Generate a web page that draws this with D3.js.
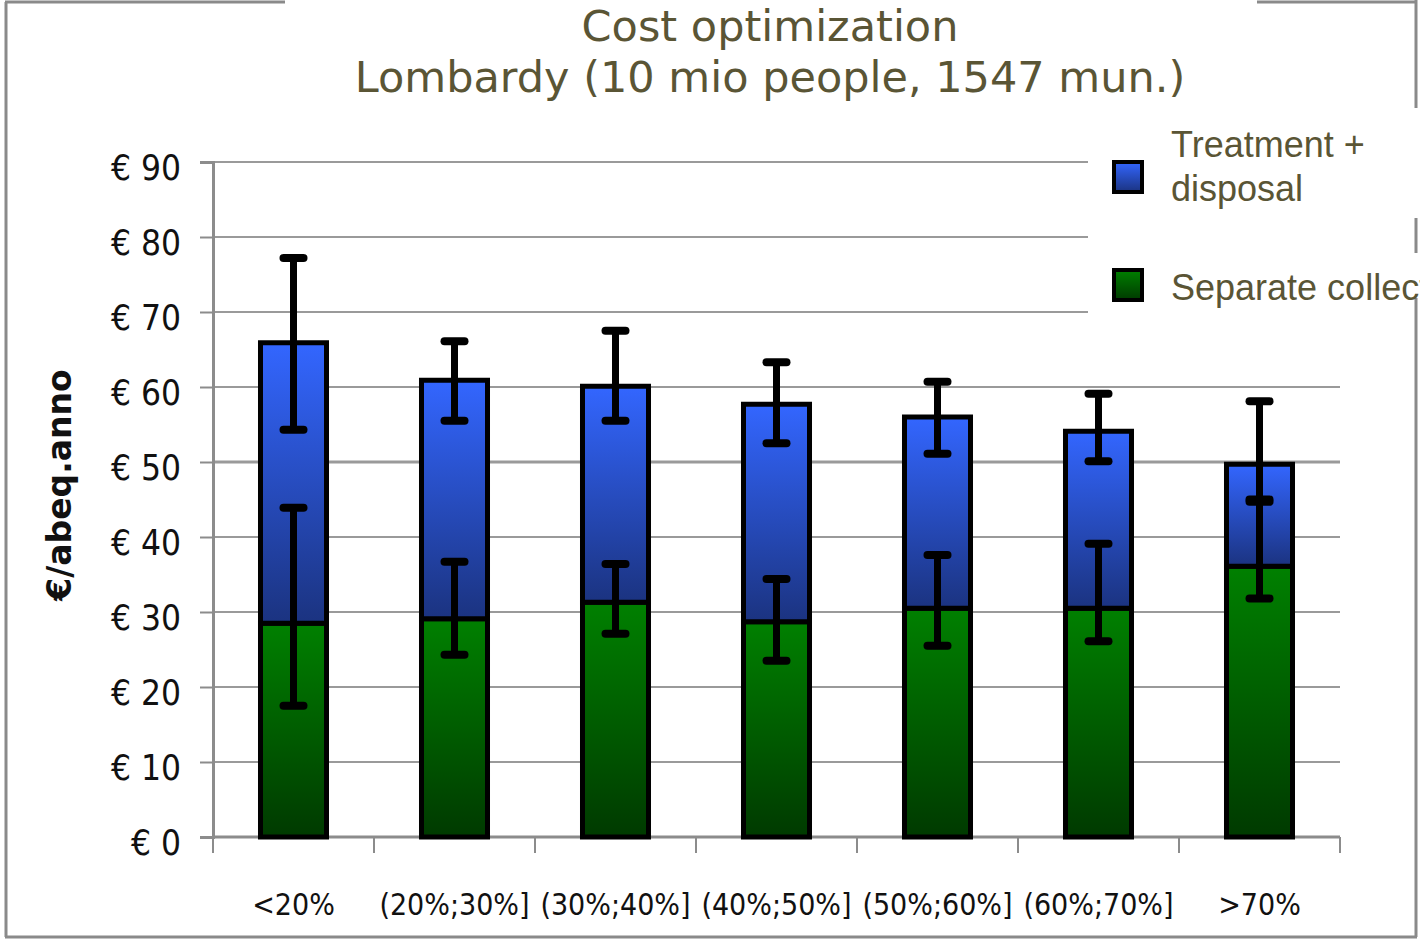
<!DOCTYPE html>
<html>
<head>
<meta charset="utf-8">
<script src="https://cdn.jsdelivr.net/npm/d3@7"></script>
<style>
  body { margin: 0; background: #fff; }
  svg { display: block; }
</style>
</head>
<body>
<svg id="chart" width="1420" height="941"></svg>
<script>
// data (€/abeq.anno)
const categories = ['<20%', '(20%;30%]', '(30%;40%]', '(40%;50%]', '(50%;60%]', '(60%;70%]', '>70%'];
const separateCollection = [28.5, 29.1, 31.3, 28.7, 30.5, 30.5, 36.1];
const treatmentDisposal = [37.4, 31.8, 28.8, 29.0, 25.5, 23.6, 13.6];
// error bar ends
const collErrLow = [17.5, 24.3, 27.1, 23.5, 25.5, 26.1, 31.8];
const collErrHigh = [43.9, 36.7, 36.4, 34.4, 37.6, 39.1, 45.0];
const treatErrLow = [54.3, 55.5, 55.5, 52.5, 51.1, 50.1, 44.7];
const treatErrHigh = [77.2, 66.1, 67.5, 63.3, 60.7, 59.1, 58.1];
const yTicks = [0, 10, 20, 30, 40, 50, 60, 70, 80, 90];
const legendItems = [
  { lines: ['Treatment +', 'disposal'], fill: 'url(#gradBlue)' },
  { lines: ['Separate collection'], fill: 'url(#gradGreen)' }
];

const svg = d3.select('#chart');
const olive = '#5a5535';
const axisGray = '#8c8c8c';

const x = d3.scaleBand().domain(categories).range([213, 1340]).paddingInner(0.59).paddingOuter(0.295);
const y = d3.scaleLinear().domain([0, 90]).range([837, 162]);

// gradients
const defs = svg.append('defs');
const addGrad = (id, top, bottom) => {
  const g = defs.append('linearGradient').attr('id', id)
    .attr('x1', 0).attr('y1', 0).attr('x2', 0).attr('y2', 1);
  g.append('stop').attr('offset', '0%').attr('stop-color', top);
  g.append('stop').attr('offset', '100%').attr('stop-color', bottom);
};
addGrad('gradBlue', '#3366ff', '#1b3380');
addGrad('gradGreen', '#008000', '#003a00');

// outer frame
const frame = svg.append('g').attr('stroke', '#8a8a8a').attr('stroke-width', 3).attr('fill', 'none');
frame.append('path').attr('d', 'M5,2H285 M1257,2H1417 M6,2V937 M5,937H1417 M1416,0V108 M1416,218V253 M1416,298V937');

// title
svg.append('text').attr('x', 770).attr('y', 41).attr('text-anchor', 'middle')
  .attr('font-family', 'DejaVu Sans').attr('font-size', 43).attr('fill', olive)
  .text('Cost optimization');
svg.append('text').attr('x', 770).attr('y', 92).attr('text-anchor', 'middle')
  .attr('font-family', 'DejaVu Sans').attr('font-size', 43).attr('fill', olive)
  .text('Lombardy (10 mio people, 1547 mun.)');

// gridlines
svg.append('g').selectAll('line').data(yTicks.filter(d => d > 0)).join('line')
  .attr('x1', 213).attr('x2', d => d >= 70 ? 1088 : 1340)
  .attr('y1', d => y(d)).attr('y2', d => y(d))
  .attr('stroke', '#9a9a9a').attr('stroke-width', d => d === 50 ? 3 : 2);

// y axis
const yAxis = svg.append('g').attr('transform', 'translate(213,0)')
  .call(d3.axisLeft(y).tickValues(yTicks).tickSize(13).tickPadding(19).tickFormat(d => '€ ' + d));
yAxis.select('.domain').attr('stroke', axisGray).attr('stroke-width', 3);
yAxis.selectAll('.tick line').attr('stroke', axisGray).attr('stroke-width', 2);
yAxis.selectAll('.tick text').attr('font-family', 'DejaVu Sans Condensed').attr('font-size', 35)
  .attr('fill', '#111').attr('dy', '0.5em');

// x axis with ticks at band edges
const xBase = svg.append('g');
xBase.append('line').attr('x1', 213).attr('x2', 1340).attr('y1', 837).attr('y2', 837)
  .attr('stroke', axisGray).attr('stroke-width', 3);
const edges = categories.map(c => x(c) - x.step() * x.paddingInner() / 2);
edges.push(1340);
edges[0] = 213;
xBase.selectAll('line.tk').data(edges).join('line').attr('class', 'tk')
  .attr('x1', d => d).attr('x2', d => d).attr('y1', 837).attr('y2', 853)
  .attr('stroke', axisGray).attr('stroke-width', 2);
xBase.selectAll('text').data(categories).join('text')
  .attr('x', d => x(d) + x.bandwidth() / 2).attr('y', 915).attr('text-anchor', 'middle')
  .attr('font-family', 'DejaVu Sans Condensed').attr('font-size', 30).attr('fill', '#111')
  .text(d => d);

// y axis title
svg.append('text').attr('transform', 'translate(71,485) rotate(-90)').attr('text-anchor', 'middle')
  .attr('font-family', 'DejaVu Sans').attr('font-weight', 'bold').attr('font-size', 33).attr('fill', '#111')
  .text('€/abeq.anno');

// bars
const bars = svg.append('g');
bars.selectAll('rect.coll').data(categories).join('rect').attr('class', 'coll')
  .attr('x', d => x(d)).attr('width', x.bandwidth())
  .attr('y', (d, i) => y(separateCollection[i])).attr('height', (d, i) => y(0) - y(separateCollection[i]))
  .attr('fill', 'url(#gradGreen)').attr('stroke', '#000').attr('stroke-width', 5);
bars.selectAll('rect.treat').data(categories).join('rect').attr('class', 'treat')
  .attr('x', d => x(d)).attr('width', x.bandwidth())
  .attr('y', (d, i) => y(separateCollection[i] + treatmentDisposal[i]))
  .attr('height', (d, i) => y(separateCollection[i]) - y(separateCollection[i] + treatmentDisposal[i]))
  .attr('fill', 'url(#gradBlue)').attr('stroke', '#000').attr('stroke-width', 5);

// error bars
const drawErr = (lo, hi) => {
  const g = svg.append('g').attr('stroke', '#000').attr('stroke-linecap', 'round');
  g.selectAll('line.v').data(categories).join('line').attr('class', 'v')
    .attr('x1', d => x(d) + x.bandwidth() / 2).attr('x2', d => x(d) + x.bandwidth() / 2)
    .attr('y1', (d, i) => y(lo[i])).attr('y2', (d, i) => y(hi[i])).attr('stroke-width', 7)
    .attr('stroke-linecap', 'butt');
  [lo, hi].forEach(arr => {
    g.append('g').selectAll('line').data(categories).join('line')
      .attr('x1', d => x(d) + x.bandwidth() / 2 - 10).attr('x2', d => x(d) + x.bandwidth() / 2 + 10)
      .attr('y1', (d, i) => y(arr[i])).attr('y2', (d, i) => y(arr[i])).attr('stroke-width', 8);
  });
};
drawErr(collErrLow, collErrHigh);
drawErr(treatErrLow, treatErrHigh);

// legend
const legend = svg.append('g');
const legendY = [160, 268];
legendItems.forEach((item, i) => {
  legend.append('rect').attr('x', 1114).attr('y', legendY[i] + 2).attr('width', 28).attr('height', 30)
    .attr('fill', item.fill).attr('stroke', '#000').attr('stroke-width', 4);
  item.lines.forEach((ln, j) => {
    legend.append('text').attr('x', 1171).attr('y', legendY[i] - 3 + j * 44 + (i === 1 ? 35 : 0))
      .attr('font-family', 'Liberation Sans').attr('font-size', 36).attr('fill', olive).text(ln);
  });
});
</script>
</body>
</html>
